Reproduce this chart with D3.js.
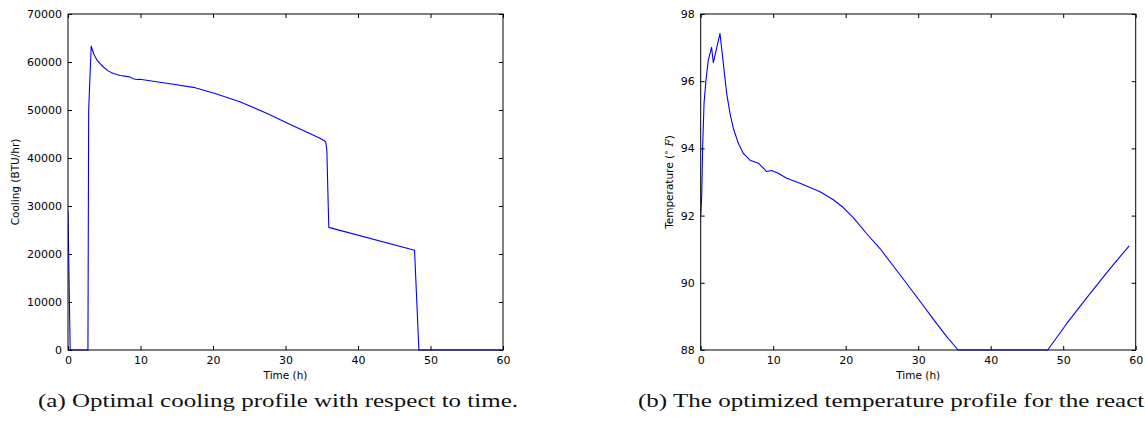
<!DOCTYPE html>
<html><head><meta charset="utf-8">
<script src="https://cdn.jsdelivr.net/npm/d3@7"></script>
<style>
html,body{margin:0;padding:0;background:#fff;}
svg{display:block;}
.tick text{font-family:"DejaVu Sans",sans-serif;font-size:11px;fill:#000;}
.lbl{font-family:"DejaVu Sans",sans-serif;font-size:10.5px;fill:#000;}
.cap{font-family:"Liberation Serif","DejaVu Serif",serif;font-size:18px;fill:#111;}
</style></head>
<body>
<svg id="c" width="1145" height="427"></svg>
<script>
// ---- Data ----
const coolTime = [0, 0.3, 2.75, 2.85, 3.2, 3.6, 4.0, 4.4, 5.0, 5.6, 6.25, 7.2, 8.5, 9.0, 9.5, 9.93, 11.3, 13.6, 17.3, 20.5, 23.7, 27.4, 31.1, 34.76, 35.3, 35.55, 35.7, 35.97, 47.8, 48.4, 60];
const coolValue = [29000, 0, 0, 50000, 63300, 61500, 60400, 59700, 58800, 58100, 57600, 57200, 56900, 56500, 56350, 56400, 56100, 55560, 54720, 53330, 51740, 49300, 46670, 44100, 43650, 43300, 41700, 25550, 20770, 0, 0];

const tempTime = [0, 0.14, 0.27, 0.46, 0.73, 1.05, 1.5, 1.74, 2.66, 3.12, 3.58, 4.04, 4.5, 5.19, 5.88, 6.8, 7.95, 8.64, 9.1, 9.79, 10.7, 11.86, 13.7, 16.46, 18.3, 19.67, 21.05, 22.9, 24.73, 26.57, 28.41, 30.25, 32.08, 33.93, 35.5, 47.86, 50.5, 53.7, 56.46, 59.1];
const tempValue = [92.0, 92.6, 94.05, 95.34, 96.04, 96.63, 97.01, 96.55, 97.42, 96.53, 95.64, 95.04, 94.6, 94.15, 93.85, 93.65, 93.56, 93.41, 93.31, 93.34, 93.26, 93.11, 92.96, 92.71, 92.47, 92.24, 91.94, 91.46, 91.02, 90.5, 89.98, 89.45, 88.92, 88.4, 88.0, 88.0, 88.79, 89.68, 90.42, 91.1];

const xTicks = [0, 10, 20, 30, 40, 50, 60];
const coolTicks = [0, 10000, 20000, 30000, 40000, 50000, 60000, 70000];
const tempTicks = [88, 90, 92, 94, 96, 98];

const svg = d3.select("#c");

function panel(opts) {
  const g = svg.append("g");
  const x = d3.scaleLinear().domain([0, 60]).range([opts.x0, opts.x1]);
  const y = d3.scaleLinear().domain(opts.yDomain).range([350, 14]);
  const tl = 4;
  const cid = "clip" + opts.id;
  svg.append("clipPath").attr("id", cid).append("rect")
    .attr("x", opts.x0).attr("y", 13).attr("width", opts.x1 - opts.x0).attr("height", 338);
  const data = opts.t.map((t, i) => [t, opts.v[i]]);
  g.append("path").datum(data)
    .attr("clip-path", `url(#${cid})`)
    .attr("fill", "none").attr("stroke", "#0000ff").attr("stroke-width", 1.1)
    .attr("stroke-linejoin", "round")
    .attr("d", d3.line().x(d => x(d[0])).y(d => y(d[1])));
  const bottom = g.append("g").attr("transform", "translate(0,350)")
    .call(d3.axisBottom(x).tickValues(xTicks).tickFormat(d3.format("d")).tickSizeInner(-tl).tickSizeOuter(0).tickPadding(6));
  const top = g.append("g").attr("transform", "translate(0,14)")
    .call(d3.axisTop(x).tickValues(xTicks).tickFormat("").tickSizeInner(-tl).tickSizeOuter(0));
  const left = g.append("g").attr("transform", `translate(${opts.x0},0)`)
    .call(d3.axisLeft(y).tickValues(opts.yTicks).tickFormat(d3.format("d")).tickSizeInner(-tl).tickSizeOuter(0).tickPadding(6));
  const right = g.append("g").attr("transform", `translate(${opts.x1},0)`)
    .call(d3.axisRight(y).tickValues(opts.yTicks).tickFormat("").tickSizeInner(-tl).tickSizeOuter(0));
  [bottom, top, left, right].forEach(a => {
    a.select(".domain").remove();
    a.selectAll(".tick line").attr("stroke", "#000").attr("stroke-width", 1);
  });
  g.append("rect").attr("x", opts.x0).attr("y", 14).attr("width", opts.x1 - opts.x0).attr("height", 336)
    .attr("fill", "none").attr("stroke", "#000").attr("stroke-width", 1);
  g.append("text").attr("class", "lbl").attr("x", (opts.x0 + opts.x1) / 2).attr("y", 379)
    .attr("text-anchor", "middle").text("Time (h)");
  return {g, x, y};
}

const p1 = panel({id: "a", x0: 68, x1: 503, yDomain: [0, 70000], yTicks: coolTicks, t: coolTime, v: coolValue});
p1.g.append("text").attr("class", "lbl").attr("transform", "translate(19,182) rotate(-90)")
  .attr("text-anchor", "middle").text("Cooling (BTU/hr)");

const p2 = panel({id: "b", x0: 700.7, x1: 1135.7, yDomain: [88, 98], yTicks: tempTicks, t: tempTime, v: tempValue});
const yl = p2.g.append("text").attr("class", "lbl").attr("transform", "translate(673,182) rotate(-90)")
  .attr("text-anchor", "middle");
yl.append("tspan").text("Temperature (");
yl.append("tspan").attr("dy", -4).attr("font-size", "8px").text("∘");
yl.append("tspan").attr("dy", 4).text(" ");
yl.append("tspan").attr("font-style", "italic").attr("font-family", "DejaVu Serif, serif").text("F");
yl.append("tspan").text(")");

svg.append("text").attr("class", "cap").attr("x", 38).attr("y", 407)
  .attr("textLength", 480).attr("lengthAdjust", "spacingAndGlyphs")
  .text("(a) Optimal cooling profile with respect to time.");
svg.append("text").attr("class", "cap").attr("x", 638).attr("y", 407)
  .attr("textLength", 532).attr("lengthAdjust", "spacingAndGlyphs")
  .text("(b) The optimized temperature profile for the reactor.");
</script>
</body></html>
